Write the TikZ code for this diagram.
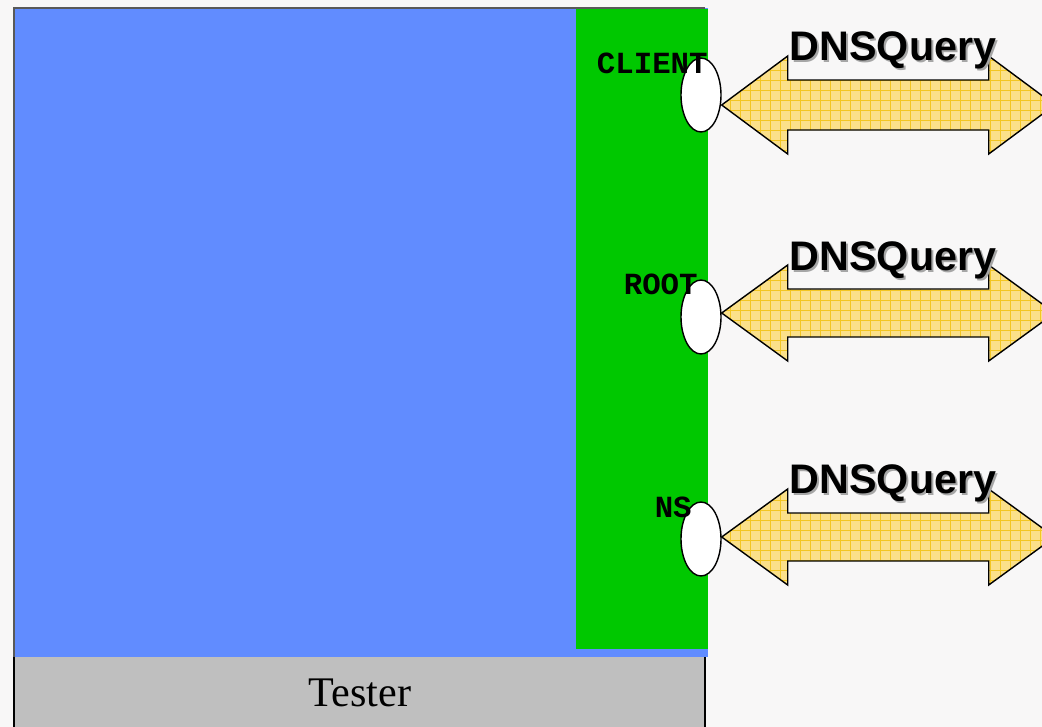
\documentclass[tikz,border=0pt]{standalone}
\usepackage{fontspec}
\setmainfont{Liberation Serif}
\newfontfamily\portfont{Liberation Mono}
\newfontfamily\queryfont{Liberation Sans}
\usetikzlibrary{shapes.geometric}

\definecolor{bgwhite}{HTML}{F8F7F7}
\definecolor{testerblue}{HTML}{618CFF}
\definecolor{portgreen}{HTML}{00C800}
\definecolor{testergray}{HTML}{BFBFBF}
\definecolor{arrowfill}{HTML}{FBE08A}
\definecolor{arrowgrid}{HTML}{F3C623}

\tikzset{
  port/.style={ellipse, draw, thick, fill=white, minimum width=0.8cm, minimum height=1.48cm, inner sep=0pt},
  portlabel/.style={font=\portfont\bfseries\fontsize{17.5}{20}\selectfont, anchor=base east, inner sep=0pt},
  query/.style={font=\queryfont\bfseries\fontsize{23.5}{28}\selectfont, anchor=base, inner sep=0pt},
  queryshadow/.style={query, text=black!35},
  dnsarrow/.style={draw, thick, fill=arrowfill, path picture={\draw[arrowgrid, line width=0.3pt] (path picture bounding box.south west) grid[step=0.2cm] (path picture bounding box.north east);}},
}

\begin{document}
\begin{tikzpicture}[x=0.02cm, y=-0.02cm]
    \clip (0,0) rectangle (1042,727);
    \fill[bgwhite] (0,0) rectangle (1042,727);
    % tester body
    \fill[testerblue] (14,8) rectangle (708,657);
    \draw[black!65, thick] (14,657) -- (14,8) -- (705,8);
    \fill[portgreen] (576,9) rectangle (708,649);
    \fill[testergray] (14,657) rectangle (705,740);
    \draw[thick] (14,657) -- (14,740);
    \draw[thick] (705,657) -- (705,740);
    \node[font=\fontsize{24}{28}\selectfont] (tester) at (360,693) {Tester};
    % ports
    \node[port] (client) at (701,95) {};
    \node[port] (root) at (701,317) {};
    \node[port] (ns) at (701,539) {};
    % messages
    \draw[dnsarrow] ([yshift=-0.2cm]client.east) -- ++(66,-49) -- ++(0,24) -- ++(201,0) -- ++(0,-24) -- ++(66,49) -- ++(-66,49) -- ++(0,-24) -- ++(-201,0) -- ++(0,24) -- cycle;
    \draw[dnsarrow] ([yshift=0.08cm]root.east) -- ++(66,-48) -- ++(0,24) -- ++(201,0) -- ++(0,-24) -- ++(66,48) -- ++(-66,48) -- ++(0,-24) -- ++(-201,0) -- ++(0,24) -- cycle;
    \draw[dnsarrow] ([yshift=0.04cm]ns.east) -- ++(66,-48) -- ++(0,24) -- ++(201,0) -- ++(0,-24) -- ++(66,48) -- ++(-66,48) -- ++(0,-24) -- ++(-201,0) -- ++(0,24) -- cycle;
    \node[queryshadow] at (895,62) {DNSQuery};
    \node[query] (q1) at (893,60) {DNSQuery};
    \node[queryshadow] at (895,272) {DNSQuery};
    \node[query] (q2) at (893,270) {DNSQuery};
    \node[queryshadow] at (895,495) {DNSQuery};
    \node[query] (q3) at (893,493) {DNSQuery};
    % port names
    \node[portlabel] (clientname) at (708,73) {CLIENT};
    \node[portlabel] (rootname) at (698,294) {ROOT};
    \node[portlabel] (nsname) at (692,517) {NS};
\end{tikzpicture}
\end{document}
